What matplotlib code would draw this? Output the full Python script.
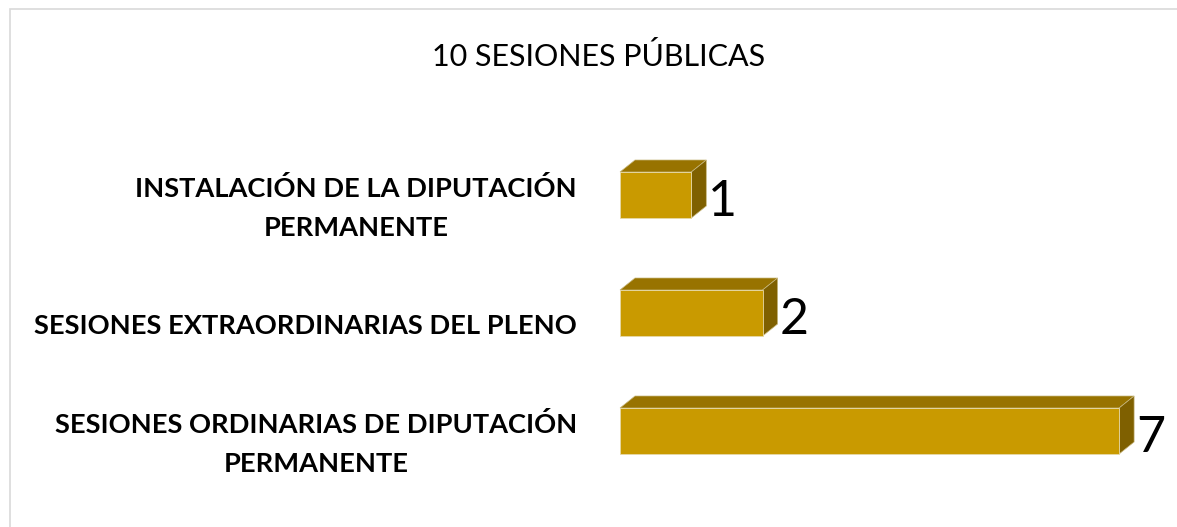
import matplotlib
matplotlib.use("Agg")
import matplotlib.pyplot as plt
from matplotlib.patches import Polygon, Rectangle

categories = ["INSTALACIÓN DE LA DIPUTACIÓN\nPERMANENTE",
              "SESIONES EXTRAORDINARIAS DEL PLENO",
              "SESIONES ORDINARIAS DE DIPUTACIÓN\nPERMANENTE"]
values = [1, 2, 7]
title = "10 SESIONES PÚBLICAS"

W, H = 1177, 527
fig = plt.figure(figsize=(W / 100, H / 100), dpi=100)
fig.patch.set_facecolor("white")
ax = fig.add_axes([0, 0, 1, 1])
ax.axis("off")

unit = 71.3      # px per unit
x0 = 620         # px of zero
y0 = 195         # px center of first bar
step = 118       # px between bars
ax.set_xlim(-x0 / unit, (W - x0) / unit)
ax.set_ylim((H - y0) / step, -y0 / step)

front = "#C99A00"
top = "#987300"
side = "#7F6000"
bh = 46 / step
dx = 15 / unit
dy = -12 / step

ypos = list(range(len(values)))
ax.barh(ypos, values, height=bh, color=front, edgecolor="#E6D9A8", linewidth=0.6, zorder=3)
for y, v in zip(ypos, values):
    yt = y - bh / 2
    yb = y + bh / 2
    ax.add_patch(Polygon([(0, yt), (v, yt), (v + dx, yt + dy), (dx, yt + dy)],
                         closed=True, facecolor=top, edgecolor="#C8B880", linewidth=0.5, zorder=2))
    ax.add_patch(Polygon([(v, yt), (v + dx, yt + dy), (v + dx, yb + dy), (v, yb)],
                         closed=True, facecolor=side, edgecolor="#C8B880", linewidth=0.5, zorder=2))
    ax.text(v + dx + 2 / unit, y + 0.06, str(v), ha="left", va="center",
            fontsize=36, family="Lato", color="black", zorder=4)
for y, c in zip(ypos, categories):
    ax.text(-43 / unit, y + 0.11, c, ha="right", va="center", multialignment="center",
            fontsize=19.6, fontweight="bold", family="Lato", color="black",
            linespacing=1.72)

fig.text(599 / W, 1 - 57 / H, title, ha="center", va="center", fontsize=22,
         family="Lato", color="black")
fig.patches.append(Rectangle((10 / W, -0.1), 1.2, 1 - 9 / H + 0.1, transform=fig.transFigure,
                             fill=False, edgecolor="#D9D9D9", linewidth=1.2))

fig.savefig("out.png", dpi=100, facecolor="white")
